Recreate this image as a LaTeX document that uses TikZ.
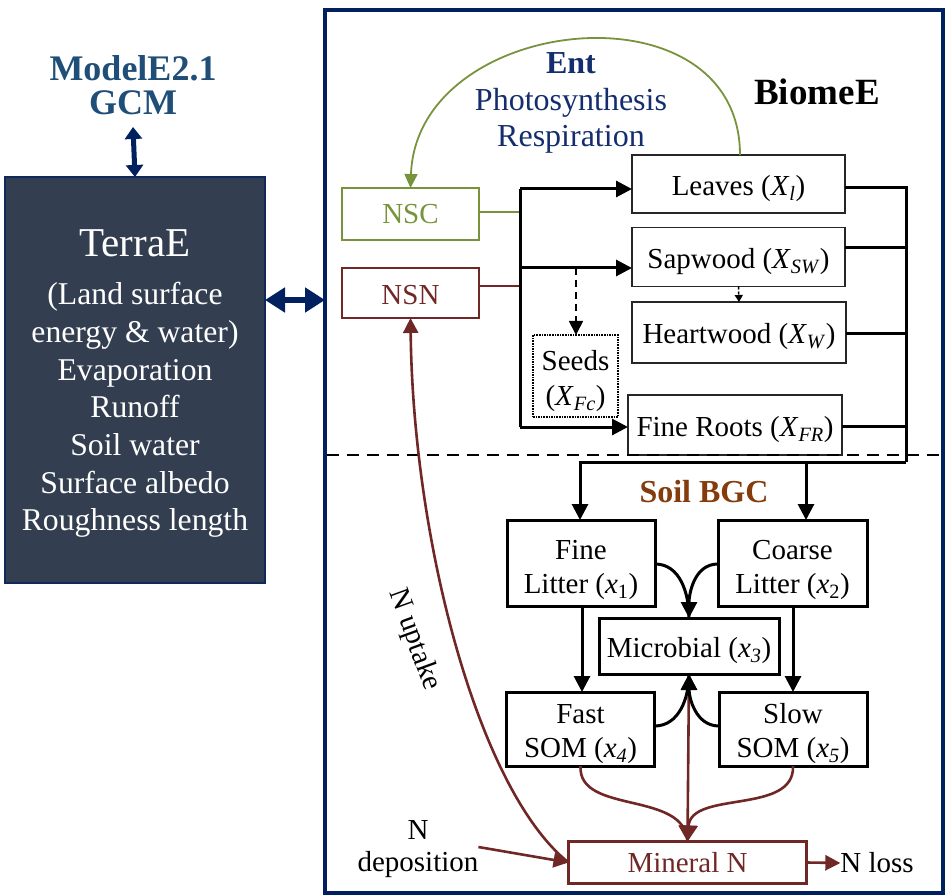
\documentclass[tikz,border=0pt]{standalone}
\usepackage{fontspec}
\setmainfont{Liberation Serif}
\usetikzlibrary{arrows.meta}
\definecolor{navy}{RGB}{0,32,96}
\definecolor{slate}{RGB}{51,63,80}
\definecolor{gcmblue}{RGB}{31,78,121}
\definecolor{entblue}{RGB}{20,45,110}
\definecolor{olive}{RGB}{119,147,60}
\definecolor{nbrown}{RGB}{112,40,38}
\definecolor{soilbrown}{RGB}{132,60,12}
\newcommand\mysub[1]{\textsubscript{#1}}
\newcommand\lift[1]{\rule{0pt}{#1pt}}
\begin{document}
\begin{tikzpicture}[x=1pt,y=-1pt,
  every node/.style={inner sep=0pt, outer sep=0pt},
  pbox/.style={draw=black!85, line width=1.8pt, align=center,
    font=\fontsize{29}{35}\selectfont},
  sbox/.style={draw=black, line width=3pt, align=center,
    font=\fontsize{29}{34.5}\selectfont},
  lbl/.style={align=center, font=\fontsize{29}{33}\selectfont},
  blk/.style={line width=3pt, black},
  blkarr/.style={blk, -{Triangle[length=16pt,width=16pt]}},
  brn/.style={line width=2.6pt, nbrown},
  brnarr/.style={brn, -{Triangle[length=15pt,width=15pt]}},
  dbl/.style={navy, line width=5pt}
]
\useasboundingbox (0,0) rectangle (946,896);

% frame and TerraE
\node[draw=navy, line width=3.2pt, minimum width=618pt, minimum height=883pt] (frame) at (634,451.5) {};
\node[draw=navy!70!slate, fill=slate, line width=1.5pt, minimum width=260pt, minimum height=406pt] (terra) at (135,380) {};
\node[text=white, font=\fontsize{41}{45}\selectfont] (terratitle) at (135,243) {TerraE};
\node[text=white, align=center, font=\fontsize{31.7}{37.7}\selectfont] (terralist) at (135,410)
  {(Land surface\\energy \& water)\\Evaporation\\Runoff\\Soil water\\Surface albedo\\Roughness length};
\node[text=gcmblue, align=center, font=\fontsize{36}{34}\selectfont\bfseries] (gcm) at (133,85) {ModelE2.1\\GCM};

\draw[dbl, {Triangle[length=12pt,width=17pt]}-{Triangle[length=12pt,width=17pt]}] (133,127) -- (terra.north);
\draw[dbl, line width=6pt, {Triangle[length=20pt,width=24pt]}-{Triangle[length=20pt,width=24pt]}] (terra.east |- 0,300) -- (frame.west |- 0,300);

% titles
\node[text=entblue, align=center, font=\fontsize{32}{36.5}\selectfont] (ent) at (571,103)
  {\textbf{Ent}\\Photosynthesis\\Respiration};
\node[font=\fontsize{37}{40}\selectfont\bfseries] (biome) at (817,92) {BiomeE};
\node[text=soilbrown, font=\fontsize{32}{36}\selectfont\bfseries] (soilbgc) at (704,492) {Soil BGC};

% plant pools
\node[draw=olive, line width=2pt, text=olive, minimum width=137pt, minimum height=52pt, font=\fontsize{29}{33}\selectfont] (nsc) at (410.5,214) {NSC};
\node[draw=nbrown, line width=2pt, text=nbrown, minimum width=137pt, minimum height=50pt, font=\fontsize{29}{33}\selectfont] (nsn) at (410.5,293) {\lift{23}NSN};
\node[pbox, minimum width=213pt, minimum height=58pt] (leaves) at (738.5,184) {\lift{29}Leaves (\textit{X}\mysub{\textit{l}})};
\node[pbox, minimum width=213pt, minimum height=59pt] (sap) at (738.5,257) {\lift{29}Sapwood (\textit{X}\mysub{\textit{SW}})};
\node[pbox, minimum width=214pt, minimum height=61pt] (heart) at (739,332.5) {\lift{29}Heartwood (\textit{X}\mysub{\textit{W}})};
\node[pbox, minimum width=214pt, minimum height=60pt] (roots) at (735,425) {\lift{30}Fine Roots (\textit{X}\mysub{\textit{FR}})};
\node[draw, densely dotted, line width=1.6pt, minimum width=85pt, minimum height=82pt, align=center, font=\fontsize{29}{35}\selectfont] (seeds) at (575.5,376) {\lift{31}Seeds\\(\textit{X}\mysub{\textit{Fc}})};

% soil pools
\node[sbox, minimum width=148pt, minimum height=86pt] (fine) at (581,563) {\lift{33}Fine\\Litter (\textit{x}\mysub{1})};
\node[sbox, minimum width=149pt, minimum height=86pt] (coarse) at (792.5,563) {\lift{33}Coarse\\Litter (\textit{x}\mysub{2})};
\node[sbox, minimum width=180pt, minimum height=56pt] (micro) at (689,646) {\lift{30}Microbial (\textit{x}\mysub{\textit{3}})};
\node[sbox, minimum width=148pt, minimum height=74pt] (fast) at (580.5,729) {\lift{29}Fast\\SOM (\textit{x}\mysub{\textit{4}})};
\node[sbox, minimum width=148pt, minimum height=74pt] (slow) at (793,729) {\lift{29}Slow\\SOM (\textit{x}\mysub{\textit{5}})};
\node[draw=nbrown, line width=2.4pt, text=nbrown, minimum width=238pt, minimum height=42pt, font=\fontsize{29}{33}\selectfont] (mineral) at (687.5,862.5) {Mineral N};

\node[lbl, font=\fontsize{29}{32}\selectfont] (ndep) at (418,849) {N\\deposition};
\node[lbl] (nloss) at (877,863) {N loss};
\node[lbl, rotate=-70] (uptake) at (414,640) {N uptake};

% divider
\coordinate (dl) at (327,455);
\coordinate (dr) at (943,455);
\draw[black, line width=2.6pt, dash pattern=on 12pt off 8pt] (dl) -- (dr);

% Ent arc
\draw[olive, line width=1.8pt, -{Triangle[length=14pt,width=13pt]}] (leaves.north -| 740,0) to[out=90,in=88,looseness=1.35] (nsc.north);

% allocation from NSC / NSN
\coordinate (bt) at (520,189);
\coordinate (bb) at (520,427);
\draw[olive, line width=2.6pt] (nsc.east |- 0,212) -- (bt |- 0,212);
\draw[nbrown, line width=2.6pt] (nsn.east |- 0,286) -- (bt |- 0,286);
\draw[blk] (bb) -- (bt);
\draw[blkarr] (bt) -- (leaves.west |- bt);
\draw[blkarr] (bt |- 0,268) -- (sap.west |- 0,268);
\draw[blkarr] (bb) -- (roots.west |- bb);
\draw[black, line width=1.8pt, dash pattern=on 7pt off 5pt, -{Triangle[length=14pt,width=14pt]}] (576,268) -- (seeds.north -| 576,0);
\draw[black, line width=1.5pt, densely dashed, -{Triangle[length=7pt,width=8pt]}] (sap.south) -- (heart.north);

% turnover bus
\coordinate (rb) at (906,462);
\draw[blk] (leaves.east |- 0,188) -- (906,188) -- (rb);
\draw[blk] (sap.east |- 0,248) -- (906,248);
\draw[blk] (heart.east |- 0,334) -- (906,334);
\draw[blk] (roots.east |- 0,426) -- (906,426);
\draw[blk] (rb) -- (580,462);
\draw[blkarr] (580,460.5) -- (fine.north -| 580,0);
\draw[blkarr] (806,462) -- (coarse.north -| 806,0);

% soil flows
\draw[blkarr] (fine.south -| 582,0) -- (fast.north -| 582,0);
\draw[blkarr] (coarse.south -| 793,0) -- (slow.north -| 793,0);
\draw[blk] (fine.east |- 0,564) to[out=0,in=90] (micro.north);
\draw[blkarr] (coarse.west |- 0,564) to[out=180,in=90] (micro.north);
\draw[brn, {Triangle[length=15pt,width=15pt]}-{Triangle[length=16pt,width=18pt]}] (micro.south) -- (mineral.north);
\draw[blk] (fast.east |- 0,726) to[out=0,in=-90] (micro.south);
\draw[blkarr] (slow.west |- 0,726) to[out=180,in=-90] (micro.south);
\draw[brn] (fast.south) .. controls (578,815) and (685,790) .. (mineral.north);
\draw[brnarr, -{Triangle[length=16pt,width=18pt]}] (slow.south) .. controls (795,815) and (691,790) .. (mineral.north);

% nitrogen
\draw[brnarr] (mineral.west) .. controls (478,790) and (413,540) .. (nsn.south);
\draw[brnarr] (ndep.east |- 0,847) -- (mineral.west);
\draw[brnarr] (mineral.east) -- (nloss.west);
\end{tikzpicture}
\end{document}
